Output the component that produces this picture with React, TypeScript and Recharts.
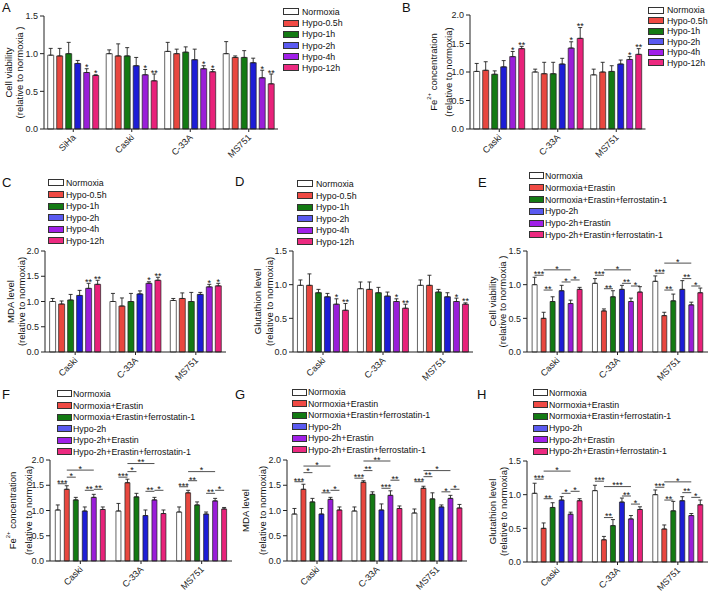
import React from "react";
import { BarChart, Bar, XAxis, YAxis, ErrorBar, LabelList, Legend } from "recharts";

const FONT = "'Liberation Sans', Arial, sans-serif";

const timeNames = ["Normoxia", "Hypo-0.5h", "Hypo-1h", "Hypo-2h", "Hypo-4h", "Hypo-12h"];
const drugNames = [
  "Normoxia",
  "Normoxia+Erastin",
  "Normoxia+Erastin+ferrostatin-1",
  "Hypo-2h",
  "Hypo-2h+Erastin",
  "Hypo-2h+Erastin+ferrostatin-1",
];
const barFill = ["#ffffff", "#e8473f", "#137a13", "#1d1dd6", "#9a1ed8", "#e8227a"];
const legendFill = ["#ffffff", "#f04a44", "#137a13", "#5a5af0", "#a020e8", "#ec2a80"];

const cellsA = ["SiHa", "Caski", "C-33A", "MS751"];
const cells = ["Caski", "C-33A", "MS751"];

// A: cell viability, time course
const aMean = [
  [0.98, 0.97, 1.0, 0.87, 0.75, 0.71],
  [1.0, 0.97, 0.97, 0.84, 0.72, 0.64],
  [1.03, 1.0, 1.02, 0.92, 0.8, 0.76],
  [1.0, 0.95, 0.95, 0.88, 0.68, 0.6],
];
const aTop = [
  [1.07, 1.07, 1.15, 0.91, 0.8, 0.72],
  [1.05, 1.13, 1.08, 0.95, 0.79, 0.73],
  [1.15, 1.06, 1.09, 1.06, 0.84, 0.79],
  [1.16, 0.97, 1.04, 0.94, 0.78, 0.73],
];
const aStars = [
  ["", "", "", "", "*", "*"],
  ["", "", "", "", "*", "**"],
  ["", "", "", "", "*", "*"],
  ["", "", "", "", "*", "**"],
];

// B: Fe2+
const bMean = [
  [1.01, 1.03, 0.96, 1.09, 1.27, 1.41],
  [1.0, 0.97, 0.97, 1.14, 1.42, 1.59],
  [0.95, 1.0, 1.01, 1.14, 1.22, 1.31],
];
const bTop = [
  [1.15, 1.18, 1.02, 1.2, 1.36, 1.45],
  [1.05, 1.17, 1.17, 1.24, 1.53, 1.78],
  [1.05, 1.17, 1.11, 1.21, 1.27, 1.41],
];
const bStars = [
  ["", "", "", "", "*", "**"],
  ["", "", "", "", "*", "**"],
  ["", "", "", "", "*", "**"],
];

// C: MDA
const cMean = [
  [1.0, 0.95, 1.03, 1.12, 1.26, 1.34],
  [1.0, 0.91, 1.0, 1.15, 1.36, 1.42],
  [1.02, 1.06, 1.0, 1.14, 1.29, 1.31],
];
const cTop = [
  [1.06, 1.01, 1.14, 1.22, 1.36, 1.42],
  [1.16, 1.07, 1.16, 1.21, 1.39, 1.48],
  [1.06, 1.17, 1.18, 1.18, 1.34, 1.36],
];
const cStars = [
  ["", "", "", "", "**", "**"],
  ["", "", "", "", "*", "**"],
  ["", "", "", "", "*", "*"],
];

// D: glutathion
const dMean = [
  [0.99, 0.99, 0.88, 0.82, 0.71, 0.62],
  [0.94, 0.93, 0.88, 0.83, 0.75, 0.65],
  [0.99, 0.99, 0.89, 0.82, 0.75, 0.71],
];
const dTop = [
  [1.07, 1.16, 0.93, 0.87, 0.79, 0.72],
  [1.04, 1.04, 0.96, 0.89, 0.79, 0.71],
  [1.07, 1.14, 0.93, 0.88, 0.8, 0.73],
];
const dStars = [
  ["", "", "", "", "*", "**"],
  ["", "", "", "", "*", "**"],
  ["", "", "", "", "*", "**"],
];

// E: cell viability, erastin
const eMean = [
  [1.0, 0.5, 0.75, 0.91, 0.72, 0.93],
  [1.02, 0.61, 0.82, 0.93, 0.75, 0.89],
  [1.05, 0.54, 0.76, 0.93, 0.7, 0.88],
];
const eTop = [
  [1.11, 0.59, 0.82, 0.99, 0.77, 0.96],
  [1.09, 0.64, 0.91, 0.99, 0.8, 0.97],
  [1.13, 0.59, 0.86, 1.06, 0.74, 0.95],
];
// [from, to, y, label]
const eSig = [
  [[0, 1, 1.14, "***"], [1, 4, 1.22, "*"], [1, 2, 0.92, "**"], [3, 4, 1.04, "*"], [4, 5, 1.07, "*"]],
  [[0, 1, 1.14, "***"], [1, 4, 1.22, "*"], [1, 2, 0.94, "**"], [3, 4, 1.02, "**"], [4, 5, 0.98, "*"]],
  [[0, 1, 1.17, "***"], [1, 4, 1.32, "*"], [1, 2, 0.92, "**"], [3, 4, 1.09, "**"], [4, 5, 0.98, "*"]],
];

// F: Fe2+, erastin
const fMean = [
  [1.01, 1.42, 1.21, 0.99, 1.26, 1.02],
  [0.99, 1.55, 1.27, 0.9, 1.21, 0.94],
  [0.97, 1.35, 1.11, 0.93, 1.19, 1.03],
];
const fTop = [
  [1.11, 1.49, 1.26, 1.07, 1.32, 1.07],
  [1.14, 1.62, 1.34, 1.01, 1.26, 1.01],
  [1.07, 1.4, 1.17, 0.97, 1.24, 1.06],
];
const fSig = [
  [[0, 1, 1.53, "***"], [1, 2, 1.66, "*"], [1, 4, 1.8, "*"], [3, 4, 1.4, "**"], [4, 5, 1.42, "**"]],
  [[0, 1, 1.66, "***"], [1, 2, 1.77, "*"], [1, 4, 1.93, "**"], [3, 4, 1.38, "**"], [4, 5, 1.4, "*"]],
  [[0, 1, 1.47, "***"], [1, 2, 1.59, "**"], [1, 4, 1.77, "*"], [3, 4, 1.34, "**"], [4, 5, 1.4, "*"]],
];

// G: MDA, erastin
const gMean = [
  [0.93, 1.42, 1.17, 0.93, 1.22, 1.01],
  [0.99, 1.56, 1.32, 1.01, 1.3, 1.04],
  [0.95, 1.44, 1.23, 1.07, 1.24, 1.05],
];
const gTop = [
  [1.04, 1.52, 1.24, 1.04, 1.26, 1.07],
  [1.07, 1.59, 1.37, 1.13, 1.39, 1.09],
  [1.03, 1.48, 1.35, 1.11, 1.3, 1.12],
];
const gSig = [
  [[0, 1, 1.57, "***"], [1, 2, 1.75, "*"], [1, 4, 1.88, "*"], [3, 4, 1.35, "**"], [4, 5, 1.4, "*"]],
  [[0, 1, 1.64, "***"], [1, 2, 1.79, "**"], [1, 4, 1.98, "**"], [3, 4, 1.44, "***"], [4, 5, 1.6, "**"]],
  [[0, 1, 1.57, "***"], [1, 2, 1.67, "**"], [1, 4, 1.79, "*"], [3, 4, 1.37, "*"], [4, 5, 1.42, "*"]],
];

// H: glutathion, erastin
const hMean = [
  [1.02, 0.5, 0.81, 0.92, 0.71, 0.91],
  [1.06, 0.33, 0.54, 0.89, 0.64, 0.78],
  [1.0, 0.49, 0.76, 0.91, 0.69, 0.85],
];
const hTop = [
  [1.17, 0.58, 0.88, 0.97, 0.74, 0.94],
  [1.14, 0.38, 0.63, 0.95, 0.69, 0.82],
  [1.07, 0.55, 0.9, 0.97, 0.72, 0.92],
];
const hSig = [
  [[0, 1, 1.23, "***"], [1, 4, 1.35, "*"], [1, 2, 0.94, "**"], [3, 4, 1.02, "*"], [4, 5, 1.05, "*"]],
  [[0, 1, 1.2, "***"], [1, 4, 1.12, "***"], [1, 2, 0.66, "**"], [3, 4, 0.98, "**"], [4, 5, 0.86, "*"]],
  [[0, 1, 1.11, "***"], [1, 4, 1.19, "*"], [1, 2, 0.92, "**"], [3, 4, 1.03, "**"], [4, 5, 0.96, "*"]],
];

const boxOf = (p: any) => {
  const vb = p.viewBox || {};
  return {
    x: typeof p.x === "number" ? p.x : vb.x,
    y: typeof p.y === "number" ? p.y : vb.y,
    width: typeof p.width === "number" ? p.width : vb.width,
    height: typeof p.height === "number" ? p.height : vb.height,
  };
};

const DiagTick = (props: any) => {
  const { x, y, payload } = props;
  const ax = x + 3;
  const ay = y + 4;
  return (
    <text
      x={ax}
      y={ay}
      transform={`rotate(-45, ${ax}, ${ay})`}
      textAnchor="end"
      fontSize={9}
      fontFamily={FONT}
      fill="#222"
    >
      {payload.value}
    </text>
  );
};

const LegendList = ({ names, cfg }: any) => (
  <div style={{ fontFamily: FONT, fontSize: 8.8, color: "#111" }}>
    {names.map((n: string, i: number) => (
      <div
        key={n}
        style={{ display: "flex", alignItems: "center", height: cfg.step, whiteSpace: "nowrap" }}
      >
        <span
          style={{
            display: "inline-block",
            width: cfg.boxW,
            height: 7,
            background: legendFill[i],
            border: "1px solid #333",
            boxSizing: "border-box",
            marginRight: cfg.gap,
          }}
        />
        <span>{n}</span>
      </div>
    ))}
  </div>
);

const Panel = (p: any) => {
  const { left, top, width, height, x0, x1, y0, y1, yMax, cats, names, mean, tops, stars, sig, barW, gap } = p;
  const band = (x1 - x0) / cats.length;
  const catGap = (band - 6 * barW - 5 * gap) / 2 - 0.05;
  const ticks: number[] = [];
  for (let t = 0; t <= yMax + 1e-6; t += 0.5) ticks.push(t);

  const rows = cats.map((c: string, g: number) => {
    const r: any = { name: c };
    names.forEach((_: string, s: number) => {
      r["v" + s] = mean[g][s];
      r["e" + s] = [0, +(tops[g][s] - mean[g][s]).toFixed(3)];
    });
    return r;
  });

  const starLabel = (s: number) => (lp: any) => {
    if (!stars) return null;
    const txt = stars[lp.index]?.[s];
    if (!txt) return null;
    const b = boxOf(lp);
    const base = b.y + b.height;
    const perUnit = b.height / mean[lp.index][s];
    const topY = base - tops[lp.index][s] * perUnit;
    return (
      <text x={b.x + b.width / 2} y={topY + 1.5} textAnchor="middle" fontSize={9} fontFamily={FONT} fill="#111">
        {txt}
      </text>
    );
  };

  const sigLabel = (lp: any) => {
    if (!sig) return null;
    const list = sig[lp.index];
    const b = boxOf(lp);
    const base = b.y + b.height;
    const perUnit = b.height / mean[lp.index][0];
    const step = b.width + gap;
    const cx0 = b.x + b.width / 2;
    return (
      <g>
        {list.map((s: any, k: number) => {
          const xa = cx0 + s[0] * step;
          const xb = cx0 + s[1] * step;
          const yy = base - s[2] * perUnit;
          return (
            <g key={k}>
              <line x1={xa} x2={xb} y1={yy} y2={yy} stroke="#222" strokeWidth={0.8} />
              <text x={(xa + xb) / 2} y={yy + 1.8} textAnchor="middle" fontSize={9} fontFamily={FONT} fill="#111">
                {s[3]}
              </text>
            </g>
          );
        })}
      </g>
    );
  };

  const titleLabel = (lp: any) => {
    const vb = lp.viewBox;
    const cx = vb.x + vb.width;
    const cy = vb.y + vb.height / 2;
    const xa = cx + p.titleOff[0];
    const xb = cx + p.titleOff[1];
    return (
      <g fontFamily={FONT} fontSize={9.5} fill="#111">
        <text x={xa} y={cy} transform={`rotate(-90, ${xa}, ${cy})`} textAnchor="middle" dominantBaseline="central">
          {p.fe ? (
            <>
              Fe<tspan fontSize={6} dy={-4}>2+</tspan>
              <tspan dy={4}>{"  concentration"}</tspan>
            </>
          ) : (
            p.title[0]
          )}
        </text>
        <text x={xb} y={cy} transform={`rotate(-90, ${xb}, ${cy})`} textAnchor="middle" dominantBaseline="central">
          {p.title[1]}
        </text>
      </g>
    );
  };

  const lg = p.legend;

  return (
    <div style={{ position: "absolute", left, top }}>
      <BarChart
        width={width}
        height={height}
        data={rows}
        margin={{ top: y0 - top, right: left + width - x1, left: 0, bottom: 0 }}
        barGap={gap}
        barCategoryGap={catGap}
      >
        <XAxis
          dataKey="name"
          height={height - (y1 - top)}
          interval={0}
          tick={<DiagTick />}
          tickSize={3}
          tickLine={{ stroke: "#222" }}
          axisLine={{ stroke: "#222" }}
        />
        <YAxis
          type="number"
          width={x0 - left}
          domain={[0, yMax]}
          ticks={ticks}
          interval={0}
          tickSize={4}
          tickFormatter={(v: number) => v.toFixed(1)}
          tick={{ fontSize: 9, fontFamily: FONT, fill: "#222" }}
          tickLine={{ stroke: "#222" }}
          axisLine={{ stroke: "#222" }}
          label={{ content: titleLabel }}
        />
        <Legend
          layout="vertical"
          align="center"
          verticalAlign="middle"
          wrapperStyle={{ left: lg.x - left, top: lg.y - top - lg.step / 2, width: "auto" }}
          content={() => <LegendList names={names} cfg={lg} />}
        />
        {names.map((n: string, s: number) => (
          <Bar
            key={n}
            dataKey={"v" + s}
            name={n}
            fill={barFill[s]}
            stroke="#222"
            strokeWidth={0.7}
            isAnimationActive={false}
          >
            <ErrorBar dataKey={"e" + s} width={2} strokeWidth={0.9} stroke="#222" direction="y" />
            {stars && <LabelList dataKey={"v" + s} content={starLabel(s)} />}
            {sig && s === 0 && <LabelList dataKey="v0" content={sigLabel} />}
          </Bar>
        ))}
      </BarChart>
    </div>
  );
};

const Letter = ({ ch, x, y }: any) => (
  <div
    style={{
      position: "absolute",
      left: x,
      top: y - 7.4,
      fontFamily: FONT,
      fontSize: 13,
      lineHeight: "13px",
      color: "#111",
    }}
  >
    {ch}
  </div>
);

const viab = ["Cell viability", "(relative to normoxia )"];
const fe = ["Fe2+ concentration", "(relative to normoxia)"];
const mda = ["MDA level", "(relative to normoxia)"];
const glu = ["Glutathion level", "(relative to normoxia)"];

export default function App() {
  return (
    <div style={{ position: "absolute", left: 0, top: 0, width: 709, height: 594, background: "#fff", overflow: "hidden" }}>
      <Panel
        left={0} top={0} width={400} height={180}
        x0={44} x1={278} y0={16} y1={129} yMax={1.5}
        cats={cellsA} names={timeNames} mean={aMean} tops={aTop} stars={aStars}
        barW={6} gap={3} title={viab} titleOff={[-36, -25]}
        legend={{ x: 283, y: 12, step: 11.2, boxW: 16, gap: 3 }}
      />
      <Panel
        left={400} top={0} width={309} height={180}
        x0={470} x1={645.5} y0={15} y1={129} yMax={2}
        cats={cells} names={timeNames} mean={bMean} tops={bTop} stars={bStars}
        barW={6} gap={3} title={fe} fe titleOff={[-37, -22]}
        legend={{ x: 648, y: 10, step: 10.5, boxW: 16, gap: 3 }}
      />
      <Panel
        left={0} top={175} width={232} height={210}
        x0={45} x1={226} y0={251} y1={352} yMax={2}
        cats={cells} names={timeNames} mean={cMean} tops={cTop} stars={cStars}
        barW={6} gap={3} title={mda} titleOff={[-35, -24]}
        legend={{ x: 48, y: 183, step: 11.6, boxW: 16, gap: 2 }}
      />
      <Panel
        left={232} top={175} width={243} height={210}
        x0={293} x1={473} y0={251} y1={352} yMax={1.5}
        cats={cells} names={timeNames} mean={dMean} tops={dTop} stars={dStars}
        barW={6} gap={3} title={glu} titleOff={[-36, -24]}
        legend={{ x: 297, y: 184, step: 11.6, boxW: 16, gap: 3 }}
      />
      <Panel
        left={474} top={170} width={235} height={215}
        x0={527} x1={708} y0={251} y1={352} yMax={1.5}
        cats={cells} names={drugNames} mean={eMean} tops={eTop} sig={eSig}
        barW={5} gap={4} title={viab} titleOff={[-35, -25]}
        legend={{ x: 529, y: 176, step: 11.8, boxW: 15, gap: 1 }}
      />
      <Panel
        left={0} top={385} width={236} height={209}
        x0={50} x1={232} y0={460} y1={561} yMax={2}
        cats={cells} names={drugNames} mean={fMean} tops={fTop} sig={fSig}
        barW={5} gap={4} title={fe} fe titleOff={[-38, -22]}
        legend={{ x: 57, y: 394, step: 11.6, boxW: 15, gap: 1 }}
      />
      <Panel
        left={236} top={385} width={236} height={209}
        x0={287} x1={467} y0={460} y1={561} yMax={2}
        cats={cells} names={drugNames} mean={gMean} tops={gTop} sig={gSig}
        barW={5} gap={4} title={mda} titleOff={[-42, -25]}
        legend={{ x: 292, y: 392, step: 11.5, boxW: 15, gap: 1 }}
      />
      <Panel
        left={472} top={385} width={237} height={209}
        x0={527} x1={708} y0={461} y1={562} yMax={1.5}
        cats={cells} names={drugNames} mean={hMean} tops={hTop} sig={hSig}
        barW={5} gap={4} title={glu} titleOff={[-35, -24]}
        legend={{ x: 533, y: 393, step: 11.7, boxW: 15, gap: 1 }}
      />
      <Letter ch="A" x={2} y={8} />
      <Letter ch="B" x={402} y={8} />
      <Letter ch="C" x={2} y={183} />
      <Letter ch="D" x={235} y={182} />
      <Letter ch="E" x={478} y={183} />
      <Letter ch="F" x={2} y={395} />
      <Letter ch="G" x={235} y={395} />
      <Letter ch="H" x={477} y={395} />
    </div>
  );
}
